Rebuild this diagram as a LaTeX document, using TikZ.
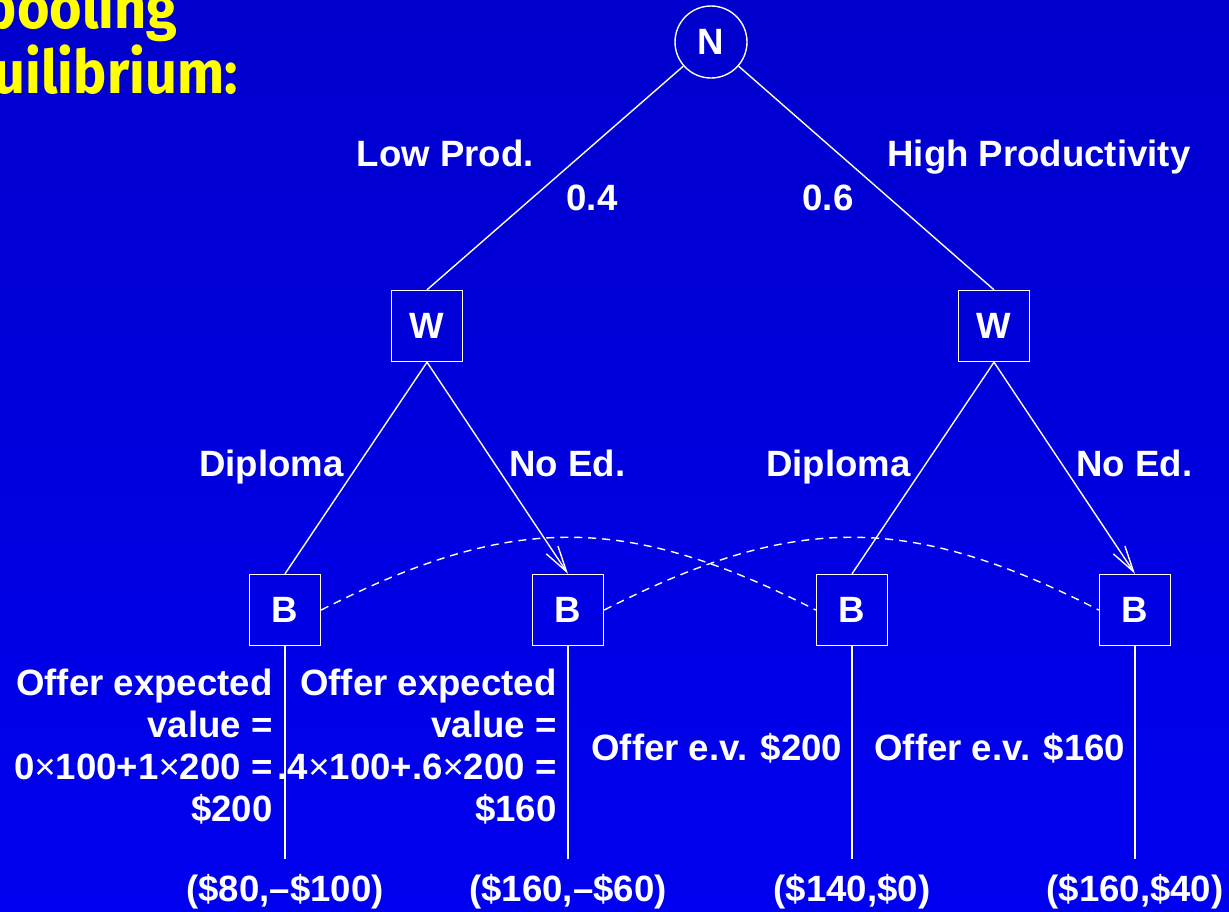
\documentclass[tikz,border=0pt]{standalone}
\usepackage{fontspec}
\setmainfont{Liberation Sans}
\newfontfamily\titlefont[FakeStretch=0.93]{Fira Sans}
\usetikzlibrary{arrows.meta}
\definecolor{bgtop}{RGB}{0,0,204}
\definecolor{bgbot}{RGB}{0,0,240}
\definecolor{ttl}{RGB}{255,255,0}
\newcommand{\tms}{{\mdseries ×}}
\begin{document}
\begin{tikzpicture}[x=0.5pt,y=-0.5pt,
  lbl/.style={text=white,font=\fontsize{18.3pt}{21pt}\selectfont\bfseries,inner sep=0pt},
  boxnode/.style={draw=white,line width=0.7pt,minimum size=35.5pt,inner sep=0pt,text=white,font=\fontsize{18.3pt}{21pt}\selectfont\bfseries},
  circnode/.style={draw=white,circle,line width=0.7pt,minimum size=36pt,inner sep=0pt,text=white,font=\fontsize{18.3pt}{21pt}\selectfont\bfseries},
  edge/.style={draw=white,line width=0.7pt},
  arr/.style={edge,-{Straight Barb[length=13pt,width=7pt,line width=0.7pt]}},
  infoset/.style={draw=white,line width=0.7pt,dash pattern=on 4pt off 3pt},
  ttlstyle/.style={text=ttl,font=\titlefont\fontsize{30pt}{36pt}\selectfont\bfseries,inner sep=0pt}]
\useasboundingbox (0,0) rectangle (1229,911);
\shade[top color=bgtop,bottom color=bgbot] (0,0) rectangle (1229,911);
% title
\node[ttlstyle,anchor=base east] (t1) at (178,28) {pooling};
\node[ttlstyle,anchor=base east] (t2) at (238,93) {equilibrium:};
% nodes
\node[circnode] (N) at (711,42) {N};
\node[boxnode] (W1) at (427,326) {W};
\node[boxnode] (W2) at (994,326) {W};
\node[boxnode] (B1) at (285,610) {B};
\node[boxnode] (B2) at (568,610) {B};
\node[boxnode] (B3) at (852,610) {B};
\node[boxnode] (B4) at (1135,610) {B};
\coordinate (E1) at (285,859);
\coordinate (E2) at (568,859);
\coordinate (E3) at (852,859);
\coordinate (E4) at (1135,859);
% edges
\draw[edge] (N) -- (W1.north);
\draw[edge] (N) -- (W2.north);
\draw[edge] (W1.south) -- (B1.north);
\draw[arr] (W1.south) -- (B2.north);
\draw[edge] (W2.south) -- (B3.north);
\draw[arr] (W2.south) -- (B4.north);
\draw[edge] (B1.south) -- (E1);
\draw[edge] (B2.south) -- (E2);
\draw[edge] (B3.south) -- (E3);
\draw[edge] (B4.south) -- (E4);
\draw[infoset] (B1.east) .. controls +(190,-97) and +(-190,-97) .. (B3.west);
\draw[infoset] (B2.east) .. controls +(190,-97) and +(-190,-97) .. (B4.west);
% labels
\node[lbl,anchor=base east] (lp) at (534,166) {Low Prod.};
\node[lbl,anchor=base] (p4) at (592,210) {0.4};
\node[lbl,anchor=base] (p6) at (828,210) {0.6};
\node[lbl,anchor=base west] (hp) at (887,166) {High Productivity};
\node[lbl,anchor=base east] (d1) at (344,476) {Diploma};
\node[lbl,anchor=base west] (n1) at (509,476) {No Ed.};
\node[lbl,anchor=base east] (d2) at (911,476) {Diploma};
\node[lbl,anchor=base west] (n2) at (1076,476) {No Ed.};
\node[lbl,anchor=north east,align=right] (o1) at (273,669) {Offer expected\\value =\\0\tms100+1\tms200 =\\\$200};
\node[lbl,anchor=north east,align=right] (o2) at (557,669) {Offer expected\\value =\\.4\tms100+.6\tms200 =\\\$160};
\node[lbl,anchor=base west] (o3) at (591,760) {Offer e.v. \$200};
\node[lbl,anchor=base west] (o4) at (874,760) {Offer e.v. \$160};
% payoffs
\node[lbl,anchor=base] (q1) at (285,901) {(\$80,–\$100)};
\node[lbl,anchor=base] (q2) at (568,901) {(\$160,–\$60)};
\node[lbl,anchor=base] (q3) at (852,901) {(\$140,\$0)};
\node[lbl,anchor=base] (q4) at (1135,901) {(\$160,\$40)};
\end{tikzpicture}
\end{document}
